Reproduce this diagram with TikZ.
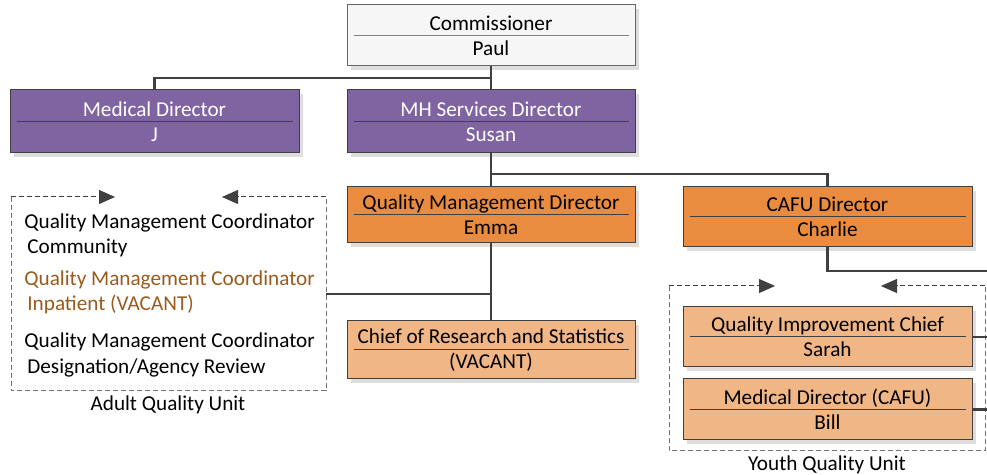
\documentclass[tikz,border=0pt]{standalone}
\usepackage{fontspec}
\setmainfont{Carlito}
\usetikzlibrary{arrows.meta, shadows}
\definecolor{chiefwhite}{HTML}{F6F6F6}
\definecolor{mhpurple}{HTML}{8064A2}
\definecolor{qmorange}{HTML}{E98C40}
\definecolor{staffor}{HTML}{F0B686}
\definecolor{vacbrown}{HTML}{9A5A1E}
\definecolor{edgegrey}{HTML}{404040}
\tikzset{
  box/.style     ={draw=edgegrey, line width=0.5pt, inner sep=0pt, align=center,
                   minimum width=144pt,
                   font=\fontsize{10.6}{12.6}\selectfont,
                   drop shadow={shadow xshift=2pt, shadow yshift=-2pt,
                                fill=black!13, opacity=1}},
  topbox/.style  ={box, draw=black!60, fill=chiefwhite, text=black},
  dirbox/.style  ={box, fill=mhpurple, text=white},
  mgrbox/.style  ={box, fill=qmorange, text=black},
  staffbox/.style={box, fill=staffor, text=black},
  divider/.style ={line width=0.5pt, edgegrey},
  link/.style    ={line width=1.3pt, edgegrey},
  unitbox/.style ={line width=0.5pt, black!55, dash pattern=on 2.5pt off 1.5pt},
  unitarr/.style ={unitbox, -{Triangle[length=8pt, width=7pt, fill=edgegrey]},
                   color=edgegrey},
  coord/.style   ={font=\fontsize{10.6}{12.6}\selectfont, inner sep=0pt,
                   anchor=west, align=left},
  unitlbl/.style ={font=\fontsize{10.6}{12.6}\selectfont, inner sep=0pt},
}
\begin{document}
\begin{tikzpicture}[x=0.5pt, y=-0.5pt]
  \useasboundingbox (0,0) rectangle (987,475);
  % ---- top of the chart
  \node[topbox, minimum height=30.5pt] (comm)  at (491,35.5)   {Commissioner\\Paul};
  \node[dirbox, minimum width=144.5pt, minimum height=31.5pt]
                                       (med)   at (154.5,121.5) {Medical Director\\J};
  \node[dirbox, minimum height=31.5pt] (mh)    at (491,121.5)  {MH Services Director\\Susan};
  % ---- managers
  \node[mgrbox, minimum height=28pt]   (qmd)   at (491,215)    {Quality Management Director\\Emma};
  \node[mgrbox, minimum width=144.5pt, minimum height=30pt]
                                       (cafu)  at (827.5,217)  {CAFU Director\\Charlie};
  \node[staffbox, minimum height=29pt] (chief) at (491,350)    {Chief of Research and Statistics\\(VACANT)};
  % ---- youth unit
  \node[staffbox, minimum width=144.5pt, minimum height=30pt]
                                       (sarah) at (827.5,337)  {Quality Improvement Chief\\Sarah};
  \node[staffbox, minimum width=144.5pt, minimum height=30.5pt]
                                       (bill)  at (827.5,409.5) {Medical Director (CAFU)\\Bill};
  \draw[divider, black!50] ([xshift=3.5pt]comm.west) -- ([xshift=-3.5pt]comm.east);
  \foreach \b in {med, mh, qmd, cafu, chief, sarah, bill}
    \draw[divider] ([xshift=3.5pt]\b.west) -- ([xshift=-3.5pt]\b.east);
  % ---- adult unit members
  \node[coord] (qmc1) at (24,235)
    {Quality Management Coordinator\\\hspace*{1.5pt}Community};
  \node[coord, text=vacbrown] (qmc2) at (24,292)
    {Quality Management Coordinator\\\hspace*{1.5pt}Inpatient (VACANT)};
  \node[coord] (qmc3) at (24,355)
    {Quality Management Coordinator\\\hspace*{1.5pt}Designation/Agency Review};
  % ---- unit frames
  \coordinate (anw) at (11,197);   \coordinate (ane) at (326,197);
  \coordinate (asw) at (11,391);   \coordinate (ase) at (326,391);
  \coordinate (aarl) at (115,197); \coordinate (aarr) at (222,197);
  \draw[unitbox] (anw) -- (asw) -- (ase) -- (ane);
  \draw[unitarr] (anw) -- (aarl);
  \draw[unitarr] (ane) -- (aarr);
  \node[unitlbl] (adult) at (168,405) {Adult Quality Unit};
  \coordinate (ynw) at (669,286);  \coordinate (yne) at (985,286);
  \coordinate (ysw) at (669,451);  \coordinate (yse) at (985,451);
  \coordinate (yarl) at (775,286); \coordinate (yarr) at (881,286);
  \draw[unitbox] (ynw) -- (ysw) -- (yse) -- (yne);
  \draw[unitarr] (ynw) -- (yarl);
  \draw[unitarr] (yne) -- (yarr);
  \node[unitlbl] (youth) at (827,465) {Youth Quality Unit};
  % ---- connectors
  \coordinate (j1) at (491,78);
  \coordinate (j2) at (491,174);
  \coordinate (j3) at (491,294);
  \coordinate (adultE) at (326,294);
  \coordinate (cafuOut) at (987,271);
  \coordinate (sarahOut) at (987,337);
  \coordinate (billOut) at (987,409.5);
  \draw[link] (comm.south) -- (mh.north);
  \draw[link] (j1) -| (med.north);
  \draw[link] (mh.south) -- (qmd.north);
  \draw[link] (j2) -| (cafu.north);
  \draw[link] (qmd.south) -- (chief.north);
  \draw[link] (adultE) -- (j3);
  \draw[link] (cafu.south) |- (cafuOut);
  \draw[link] (sarah.east) -- (sarahOut);
  \draw[link] (bill.east) -- (billOut);
\end{tikzpicture}
\end{document}
